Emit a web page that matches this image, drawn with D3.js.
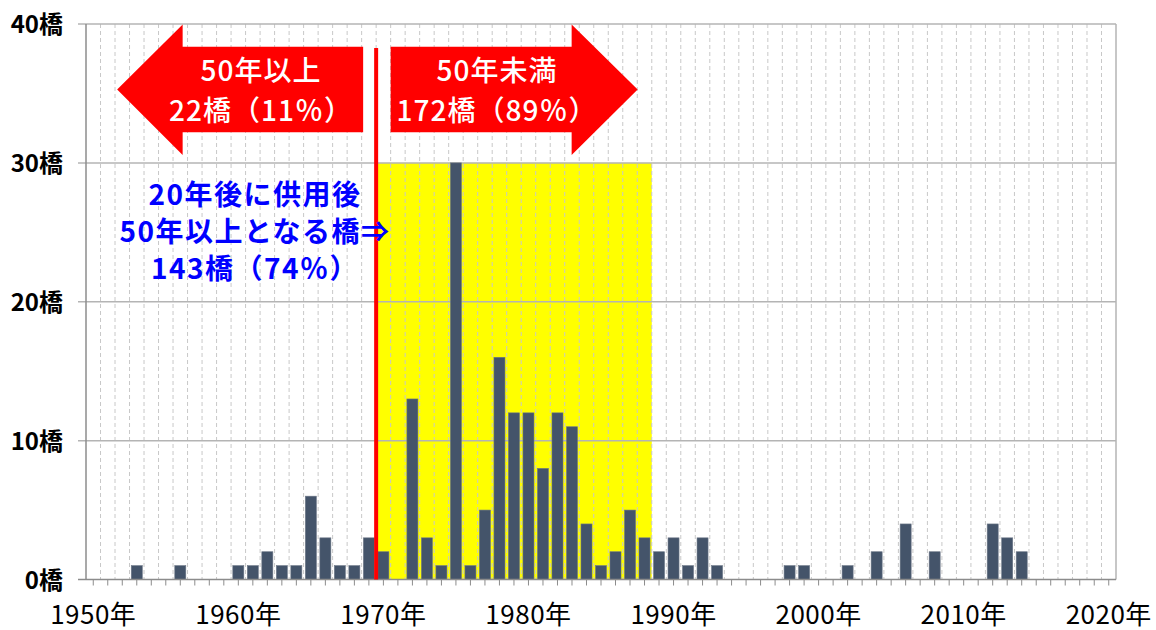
<!DOCTYPE html>
<html>
<head>
<meta charset="utf-8">
<script src="https://cdn.jsdelivr.net/npm/d3@7"></script>
<style>
  body { margin: 0; background: #fff; }
  text { font-family: "Noto Sans CJK JP", "Noto Sans", sans-serif; }
</style>
</head>
<body>
<div id="chart"></div>
<script>
// 供用年ごとの橋梁数
const builtYears = [1953, 1956, 1960, 1961, 1962, 1963, 1964, 1965, 1966, 1967, 1968, 1969,
  1970, 1972, 1973, 1974, 1975, 1976, 1977, 1978, 1979, 1980, 1981, 1982, 1983, 1984,
  1985, 1986, 1987, 1988, 1989, 1990, 1991, 1992, 1993, 1998, 1999, 2002, 2004, 2006,
  2008, 2012, 2013, 2014];
const bridgeCounts = [1, 1, 1, 1, 2, 1, 1, 6, 3, 1, 1, 3,
  2, 13, 3, 1, 30, 1, 5, 16, 12, 12, 8, 12, 11, 4,
  1, 2, 5, 3, 2, 3, 1, 3, 1, 1, 1, 1, 2, 4,
  2, 4, 3, 2];

const firstYear = 1950, lastYear = 2020;
const xTickYears = [1950, 1960, 1970, 1980, 1990, 2000, 2010, 2020];
const yTicks = [0, 10, 20, 30, 40];

const leftArrowText = ["50年以上", "22橋（11％）"];
const rightArrowText = ["50年未満", "172橋（89％）"];
const noteText = ["20年後に供用後", "50年以上となる橋⇒", "143橋（74％）"];
const splitYear = 1970, highlightEnd = 1989, highlightTop = 30;

var w = 1156, h = 630;
var plotL = 86, plotR = 1116, plotT = 24, plotB = 579.5;

var allYears = d3.range(firstYear, lastYear + 1);

var x = d3.scaleBand().domain(allYears).range([plotL, plotR])
  .paddingInner(0.24).paddingOuter(0.12);
var xCell = d3.scaleBand().domain(allYears).range([plotL, plotR]);
var y = d3.scaleLinear().domain([0, 40]).range([plotB, plotT]);

var svg = d3.select("#chart").append("svg")
  .attr("width", w).attr("height", h);

// highlight band 1970-1988
svg.append("rect")
  .attr("x", xCell(splitYear))
  .attr("y", y(highlightTop))
  .attr("width", xCell(highlightEnd) - xCell(splitYear))
  .attr("height", y(0) - y(highlightTop))
  .attr("fill", "#ffff00");

// dashed vertical grid at year boundaries
svg.append("g").selectAll("line")
  .data(allYears.slice(1))
  .enter().append("line")
  .attr("x1", d => xCell(d)).attr("x2", d => xCell(d))
  .attr("y1", plotT).attr("y2", plotB)
  .attr("stroke", "#c8c8c8").attr("stroke-width", 1)
  .attr("stroke-dasharray", "4,3");

// horizontal grid
svg.append("g").selectAll("line")
  .data(yTicks.slice(1))
  .enter().append("line")
  .attr("x1", plotL - 8).attr("x2", plotR)
  .attr("y1", d => y(d)).attr("y2", d => y(d))
  .attr("stroke", "#b4b4b4").attr("stroke-width", 1.5);

// right border
svg.append("line")
  .attr("x1", plotR).attr("x2", plotR).attr("y1", plotT).attr("y2", plotB)
  .attr("stroke", "#b4b4b4").attr("stroke-width", 1.5);

// bars
svg.append("g").selectAll("rect")
  .data(builtYears)
  .enter().append("rect")
  .attr("x", d => x(d))
  .attr("width", x.bandwidth())
  .attr("y", (d, i) => y(bridgeCounts[i]))
  .attr("height", (d, i) => y(0) - y(bridgeCounts[i]))
  .attr("fill", "#44546a")
  .attr("stroke", "#6d7787").attr("stroke-width", 0.6);

// y axis
svg.append("line")
  .attr("x1", plotL).attr("x2", plotL).attr("y1", plotT).attr("y2", plotB)
  .attr("stroke", "#8c8c8c").attr("stroke-width", 1.5);
svg.append("line")
  .attr("x1", plotL - 8).attr("x2", plotL).attr("y1", y(0)).attr("y2", y(0))
  .attr("stroke", "#8c8c8c").attr("stroke-width", 1.5);
svg.append("g").selectAll("text")
  .data(yTicks)
  .enter().append("text")
  .attr("x", 63).attr("y", d => y(d) + 9)
  .attr("text-anchor", "end")
  .attr("font-size", 24).attr("font-weight", "bold")
  .attr("fill", "#000")
  .text(d => d + "橋");

// x axis
var xAxis = d3.axisBottom(x)
  .tickSize(6)
  .tickFormat(d => xTickYears.includes(d) ? d + "年" : "");
var gx = svg.append("g")
  .attr("transform", "translate(0," + plotB + ")")
  .call(xAxis);
gx.select(".domain").attr("stroke", "#8c8c8c").attr("stroke-width", 1.5)
  .attr("d", "M" + plotL + ",0H" + plotR);
gx.selectAll(".tick line").attr("stroke", "#8c8c8c");
gx.selectAll(".tick text")
  .attr("font-family", "'Noto Sans CJK JP', sans-serif")
  .attr("font-size", 26).attr("fill", "#000")
  .attr("letter-spacing", 0.5)
  .attr("dy", 0).attr("y", 44.5);

// red split line
svg.append("line")
  .attr("x1", xCell(splitYear)).attr("x2", xCell(splitYear))
  .attr("y1", 48).attr("y2", plotB)
  .attr("stroke", "#ff0000").attr("stroke-width", 4);

// arrows
var sx = xCell(splitYear);
var bodyTop = 46.7, bodyBot = 132.3, headTop = 24.5, headBot = 155, midY = 89.5;
var leftArrow = [
  [sx - 13, bodyTop], [sx - 193.5, bodyTop], [sx - 193.5, headTop], [sx - 259, midY],
  [sx - 193.5, headBot], [sx - 193.5, bodyBot], [sx - 13, bodyBot]
];
var rightArrow = [
  [sx + 14.5, bodyTop], [sx + 195.5, bodyTop], [sx + 195.5, headTop], [sx + 261.5, midY],
  [sx + 195.5, headBot], [sx + 195.5, bodyBot], [sx + 14.5, bodyBot]
];
svg.append("polygon")
  .attr("points", leftArrow.map(p => p.join(",")).join(" "))
  .attr("fill", "#ff0000");
svg.append("polygon")
  .attr("points", rightArrow.map(p => p.join(",")).join(" "))
  .attr("fill", "#ff0000");

svg.append("g").selectAll("text")
  .data(leftArrowText)
  .enter().append("text")
  .attr("x", 261).attr("y", (d, i) => 81 + i * 39.5)
  .attr("text-anchor", "middle")
  .attr("font-size", 28).attr("font-weight", 500)
  .attr("letter-spacing", 1)
  .attr("fill", "#fff")
  .text(d => d);

svg.append("g").selectAll("text")
  .data(rightArrowText)
  .enter().append("text")
  .attr("x", 497).attr("y", (d, i) => 81 + i * 39.5)
  .attr("text-anchor", "middle")
  .attr("font-size", 28).attr("font-weight", 500)
  .attr("letter-spacing", 1)
  .attr("fill", "#fff")
  .text(d => d);

// blue note
svg.append("g").selectAll("text")
  .data(noteText)
  .enter().append("text")
  .attr("x", 255).attr("y", (d, i) => 205 + i * 37)
  .attr("text-anchor", "middle")
  .attr("font-size", 28).attr("font-weight", "bold")
  .attr("letter-spacing", 1.5)
  .attr("fill", "#0000ff")
  .text(d => d);
</script>
</body>
</html>
